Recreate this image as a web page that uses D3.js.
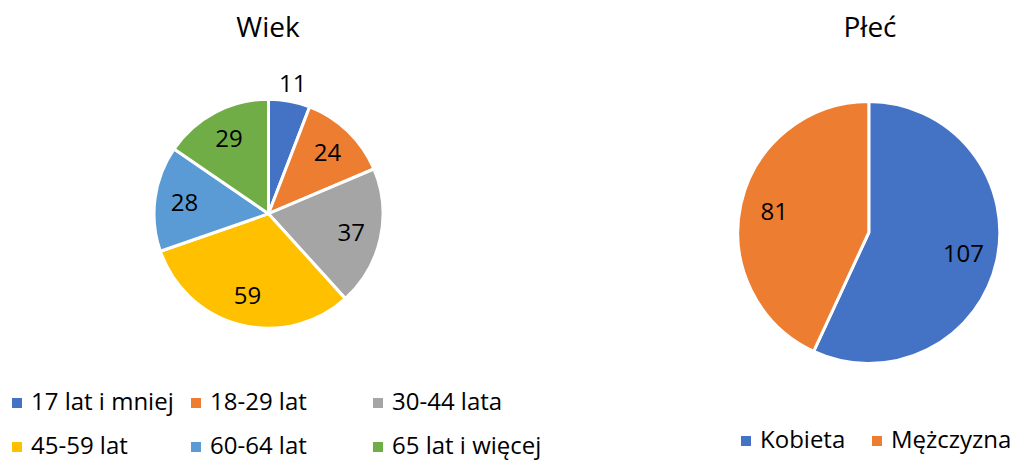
<!DOCTYPE html>
<html>
<head>
<meta charset="utf-8">
<script src="https://cdn.jsdelivr.net/npm/d3@7"></script>
<style>
  body { margin: 0; background: #fff; }
  text { font-family: "Open Sans", sans-serif; fill: #000; }
</style>
</head>
<body>
<div id="app"></div>
<script>
// Data
let ageCategories = ["17 lat i mniej", "18-29 lat", "30-44 lata", "45-59 lat", "60-64 lat", "65 lat i więcej"]
let ageValues = [11, 24, 37, 59, 28, 29]
let sexCategories = ["Kobieta", "Mężczyzna"]
let sexValues = [107, 81]

let officeColors = ["#4472C4", "#ED7D31", "#A5A5A5", "#FFC000", "#5B9BD5", "#70AD47"]

let width = 1012
let height = 461

let svg = d3.select("#app").append("svg")
    .attr("width", width)
    .attr("height", height)

let pie = d3.pie().sort(null).value(d => d.value)

function drawPie(opts) {
    let data = opts.categories.map((c, i) => ({name: c, value: opts.values[i]}))
    let color = d3.scaleOrdinal().domain(opts.categories).range(officeColors)
    let arcs = pie(data)
    let arc = d3.arc().innerRadius(0).outerRadius(opts.r)
    let labelArc = d3.arc().innerRadius(opts.r * 0.74).outerRadius(opts.r * 0.74)
    let outArc = d3.arc().innerRadius(opts.r + 18).outerRadius(opts.r + 18)

    // title
    svg.append("text")
        .attr("x", opts.titleX)
        .attr("y", 37)
        .attr("text-anchor", "middle")
        .style("font-size", "28px")
        .text(opts.title)

    let g = svg.append("g")
        .attr("transform", "translate(" + opts.cx + "," + opts.cy + ")")

    g.selectAll("path")
        .data(arcs)
        .enter().append("path")
        .attr("d", arc)
        .attr("fill", d => color(d.data.name))
        .attr("stroke", "#fff")
        .attr("stroke-width", 3)
        .attr("stroke-linejoin", "round")

    g.selectAll("text.lbl")
        .data(arcs)
        .enter().append("text")
        .attr("class", "lbl")
        .attr("transform", d => {
            // small slices get their label outside
            let small = (d.endAngle - d.startAngle) < 0.4
            return "translate(" + (small ? outArc : labelArc).centroid(d) + ")"
        })
        .attr("dy", "0.36em")
        .attr("text-anchor", "middle")
        .style("font-size", "24px")
        .text(d => d.data.value)

    // legend
    let leg = svg.append("g").selectAll("g")
        .data(data)
        .enter().append("g")
        .attr("transform", (d, i) => "translate(" + opts.legX[i % opts.cols] + "," + opts.legY[Math.floor(i / opts.cols)] + ")")

    leg.append("rect")
        .attr("x", 0)
        .attr("y", -12)
        .attr("width", 10)
        .attr("height", 10)
        .attr("fill", d => color(d.name))

    leg.append("text")
        .attr("x", 19)
        .attr("y", 0)
        .style("font-size", "24px")
        .text(d => d.name)
}

drawPie({
    title: "Wiek", titleX: 268,
    categories: ageCategories, values: ageValues,
    cx: 268.5, cy: 213.7, r: 114.5,
    cols: 3, legX: [12, 191, 373], legY: [410, 454]
})

drawPie({
    title: "Płeć", titleX: 870,
    categories: sexCategories, values: sexValues,
    cx: 868.8, cy: 232.5, r: 131,
    cols: 2, legX: [741, 872], legY: [448]
})
</script>
</body>
</html>
